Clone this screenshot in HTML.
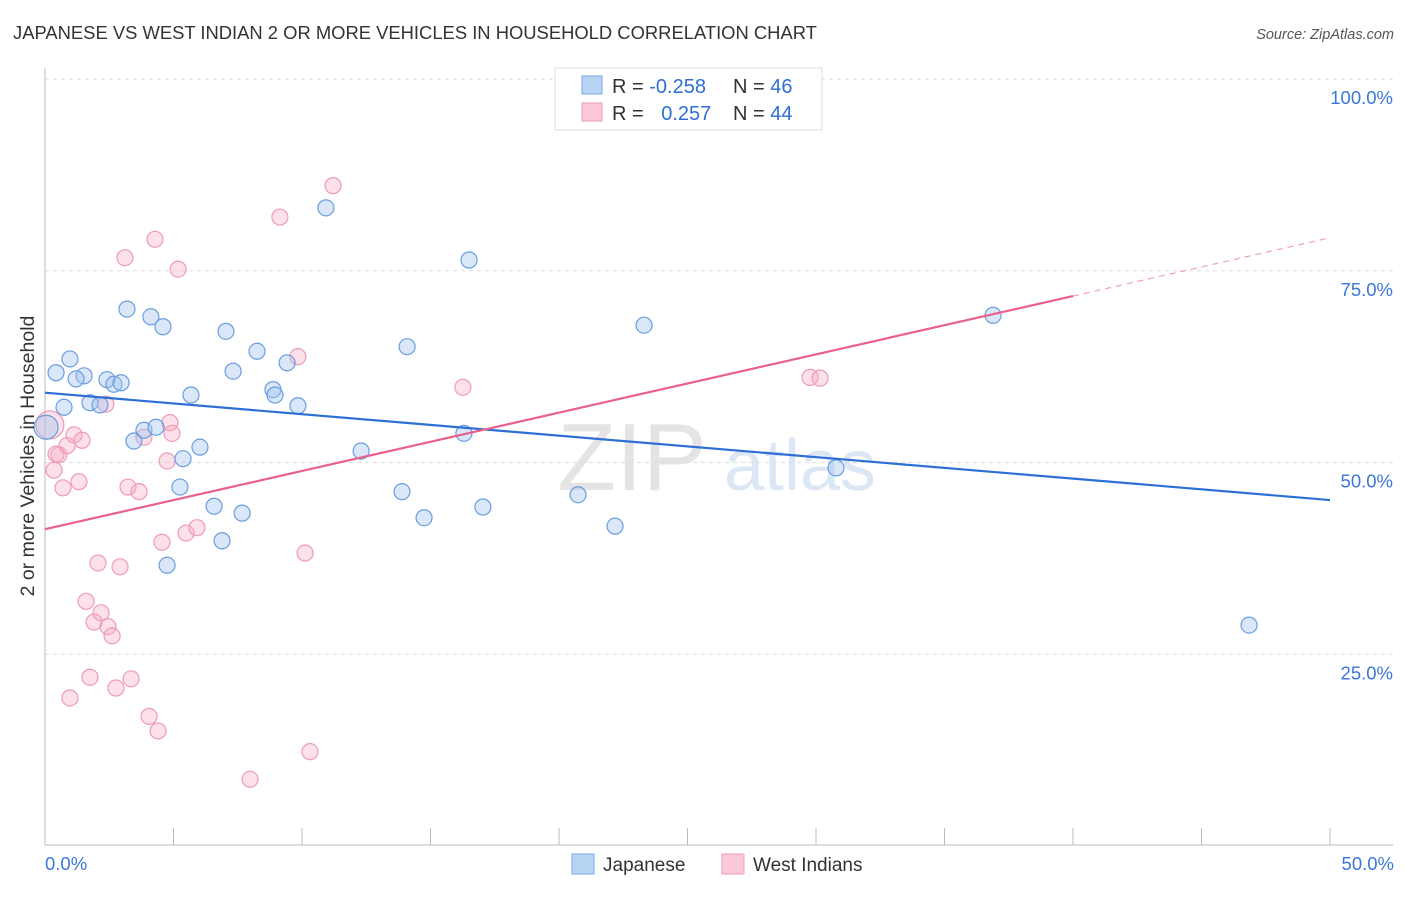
<!DOCTYPE html>
<html><head><meta charset="utf-8"><style>
body{margin:0;background:#fff;font-family:"Liberation Sans",sans-serif;}
svg text{font-family:"Liberation Sans",sans-serif;}
</style></head><body>
<svg id="chart" width="1406" height="892">
<text x="13" y="39" font-size="18.4" fill="#333">JAPANESE VS WEST INDIAN 2 OR MORE VEHICLES IN HOUSEHOLD CORRELATION CHART</text>
<text x="1394" y="39" font-size="14.5" fill="#555" font-style="italic" text-anchor="end">Source: ZipAtlas.com</text>
<g>
<text x="632" y="490" font-size="96" fill="#d9d9d9" font-family="Liberation Serif" text-anchor="middle" opacity="0.7">ZIP</text>
<text x="800" y="490" font-size="72" fill="#c5d8f0" text-anchor="middle" opacity="0.6">atlas</text>
</g>
<g id="grid"></g>
<g id="axes"></g>
<g id="marks"></g>
<g>
<rect x="555" y="68" width="267" height="62" fill="#fff" stroke="#ddd"/>
<rect x="582" y="76" width="20" height="18" fill="#b8d4f5" stroke="#7aaae6"/>
<rect x="582" y="103" width="20" height="18" fill="#fbc9d8" stroke="#f09ab5"/>
<text x="612" y="93" font-size="20" fill="#333">R = <tspan fill="#2e6fd6">-0.258</tspan></text>
<text x="733" y="93" font-size="20" fill="#333">N = <tspan fill="#2e6fd6">46</tspan></text>
<text x="612" y="120" font-size="20" fill="#333">R = <tspan fill="#2e6fd6" dx="12">0.257</tspan></text>
<text x="733" y="120" font-size="20" fill="#333">N = <tspan fill="#2e6fd6">44</tspan></text>
</g>
<g>
<rect x="572" y="854" width="22" height="20" fill="#b8d4f5" stroke="#7aaae6"/>
<text x="603" y="871" font-size="19" fill="#333">Japanese</text>
<rect x="722" y="854" width="22" height="20" fill="#fbc9d8" stroke="#f09ab5"/>
<text x="753" y="871" font-size="19" fill="#333">West Indians</text>
</g>
<text transform="translate(34,456) rotate(-90)" font-size="19.5" fill="#333" text-anchor="middle">2 or more Vehicles in Household</text>
</svg>
<script>
const yTicks=[25,50,75,100];
const yTickLabels=["25.0%","50.0%","75.0%","100.0%"];
const japX=[0.43,0.97,1.52,1.21,0.74,1.75,2.14,2.41,2.68,2.96,3.19,4.12,4.59,3.46,3.85,4.32,5.37,5.25,5.68,6.03,6.58,6.89,7.04,7.32,7.67,8.25,8.87,8.95,9.42,9.84,10.93,12.30,13.89,14.09,14.75,16.30,16.50,17.04,20.74,22.18,23.31,30.78,36.89,46.85,4.75,0.04];
const japY=[61.7,63.5,61.3,60.9,57.2,57.8,57.5,60.8,60.2,60.4,70.0,69.0,67.7,52.8,54.2,54.6,50.5,46.8,58.8,52.0,44.3,39.8,67.1,61.9,43.4,64.5,59.5,58.8,63.0,57.4,83.2,51.5,46.2,65.1,42.8,53.8,76.4,44.2,45.8,41.7,67.9,49.3,69.2,28.8,36.6,54.6];
const wiX=[0.19,0.35,0.54,0.70,0.86,1.13,1.32,1.44,1.60,1.75,0.97,1.91,2.06,2.18,2.45,2.61,2.76,2.92,3.11,3.23,3.35,3.66,3.85,4.05,4.28,4.40,4.55,4.75,4.86,4.94,5.18,5.49,5.91,7.98,9.14,9.84,10.12,10.31,11.21,16.26,29.77,30.16,2.37,0.43];
const wiY=[54.9,49.0,51.0,46.7,52.2,53.6,47.5,52.9,31.9,22.0,19.3,29.2,36.9,30.4,28.6,27.4,20.6,36.4,76.7,46.8,21.8,46.2,53.3,16.9,79.1,15.0,39.6,50.2,55.2,53.8,75.2,40.8,41.5,8.7,82.0,63.8,38.2,12.3,86.1,59.8,61.1,61.0,57.6,51.1];
const japTrend=[59.1,45.1];
const wiTrend=[41.3,79.3];
const X0=45,X1=1330,Y0=846,Y100=79;
const sx=v=>X0+(X1-X0)*v/50;
const sy=v=>Y0+(Y100-Y0)*v/100;
const NS="http://www.w3.org/2000/svg";
function mk(parent,tag,attrs){const e=document.createElementNS(NS,tag);for(const k in attrs)e.setAttribute(k,attrs[k]);document.getElementById(parent).appendChild(e);return e;}
yTicks.forEach((t,i)=>{
 const g=mk("grid","line",{x1:45,x2:1393,y1:sy(t),y2:sy(t),stroke:"#ddd","stroke-dasharray":"4,4"});
 
 
 const l=mk("axes","text",{x:1393,y:sy(t)+25,"font-size":18.5,fill:"#3b78d8","text-anchor":"end"});
 l.textContent=yTickLabels[i];
 
 
});
const ya=mk("axes","line",{x1:45,x2:45,y1:68,y2:845,stroke:"#bbb"});


const xa=mk("axes","line",{x1:45,x2:1393,y1:845,y2:845,stroke:"#bbb"});


for(let i=1;i<=10;i++){const t=mk("axes","line",{x1:sx(i*5),x2:sx(i*5),y1:828,y2:845,stroke:"#bbb"});
 
 }
const xl0=mk("axes","text",{x:45,y:870,"font-size":18.5,fill:"#3b78d8"});xl0.textContent="0.0%";


const xl1=mk("axes","text",{x:1394,y:870,"font-size":18.5,fill:"#3b78d8","text-anchor":"end"});xl1.textContent="50.0%";


wiX.forEach((x,i)=>{const c=mk("marks","circle",{cx:sx(x),cy:sy(wiY[i]),r:i==0?14:8,fill:"rgba(246,170,195,0.35)",stroke:"#ef9ab6","stroke-width":1.2});
 
 });
japX.forEach((x,i)=>{const c=mk("marks","circle",{cx:sx(x),cy:sy(japY[i]),r:i==japX.length-1?12:8,fill:"rgba(160,196,240,0.4)",stroke:"#6a9de0","stroke-width":1.2});
 
 });
const bt=mk("marks","line",{x1:sx(0),y1:sy(japTrend[0]),x2:sx(50),y2:sy(japTrend[1]),stroke:"#2d6fd6","stroke-width":2.2});


const pm=wiTrend[0]+(wiTrend[1]-wiTrend[0])*0.8;
const pt=mk("marks","line",{x1:sx(0),y1:sy(wiTrend[0]),x2:sx(40),y2:sy(pm),stroke:"#e8608c","stroke-width":2.2});


const pd=mk("marks","line",{x1:sx(40),y1:sy(pm),x2:sx(50),y2:sy(wiTrend[1]),stroke:"#f0a0bb","stroke-width":1.2,"stroke-dasharray":"6,5"});


</script>
</body></html>
